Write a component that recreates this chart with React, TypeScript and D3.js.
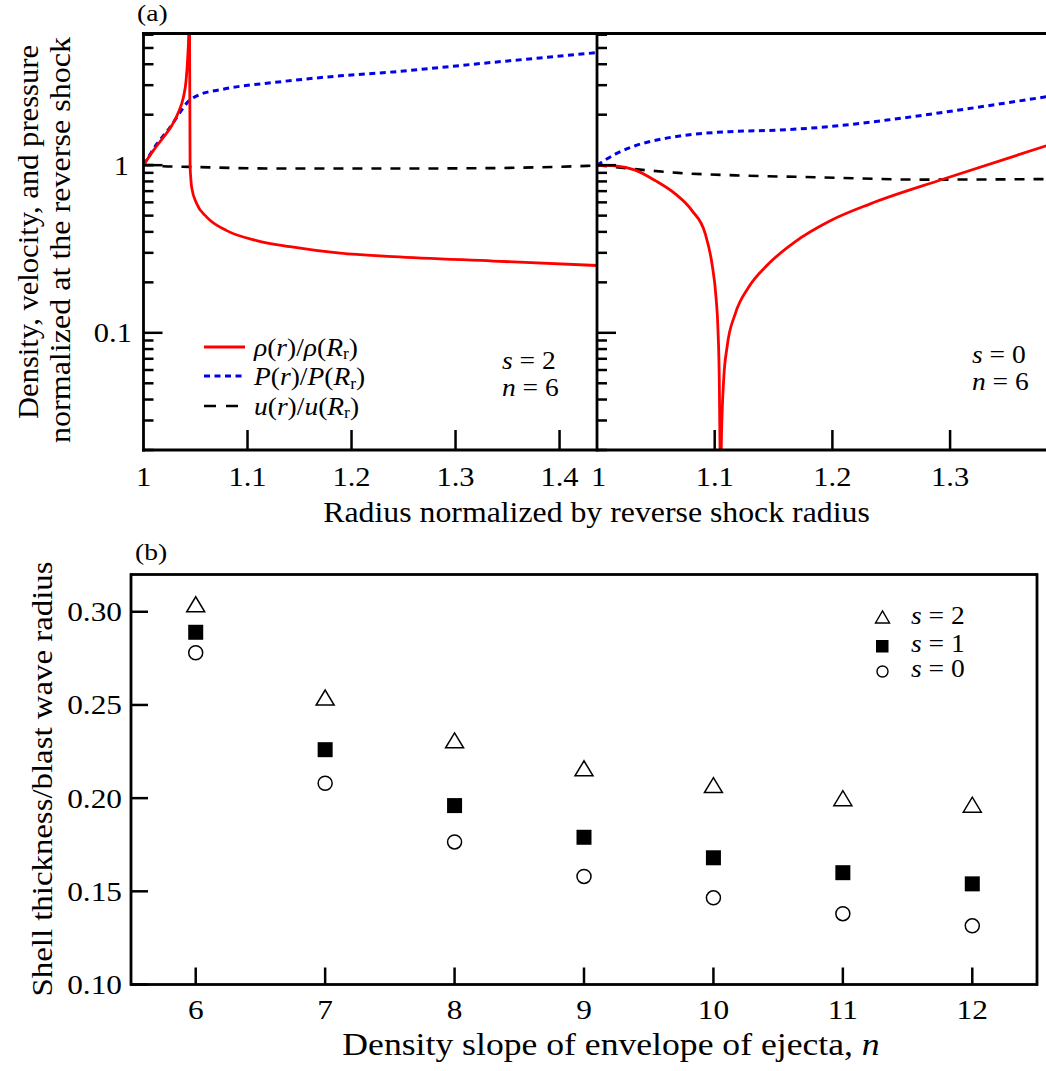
import React from 'react';
import * as d3 from 'd3';

// ---------- Data: panel (a), s = 2 (left) ----------
const leftRho: [number, number][] = [
  [1.0, 1.0], [1.0094, 1.22], [1.019, 1.464], [1.0271, 1.718], [1.0335, 2.063],
  [1.0383, 2.53], [1.0409, 3.18], [1.0425, 4.38], [1.0435, 6.1], [1.0440, 9.0],
  [1.0442, 9.0], [1.0444, 4.0], [1.0446, 2.0], [1.0448, 1.0], [1.0454, 0.846],
  [1.0463, 0.737], [1.0512, 0.588], [1.0608, 0.49], [1.08, 0.407], [1.1088, 0.355],
  [1.1409, 0.3265], [1.189, 0.2986], [1.24, 0.285], [1.3363, 0.268], [1.4358, 0.252],
];
const leftP: [number, number][] = [
  [1.0, 1.0], [1.0127, 1.333], [1.0255, 1.68], [1.0351, 2.063], [1.0431, 2.40],
  [1.0512, 2.59], [1.0767, 2.84], [1.1248, 3.11], [1.189, 3.41], [1.24, 3.6],
  [1.3332, 4.09], [1.4358, 4.69],
];
const leftU: [number, number][] = [
  [1.0, 1.0], [1.009, 1.0], [1.019, 0.986], [1.0447, 0.977], [1.1248, 0.955],
  [1.2466, 0.955], [1.333, 0.96], [1.4358, 0.994],
];

// ---------- Data: panel (a), s = 0 (right) ----------
const rightRho: [number, number][] = [
  [1.0, 1.0], [1.0155, 0.99], [1.0325, 0.934], [1.0495, 0.809], [1.0665, 0.674],
  [1.0807, 0.536], [1.092, 0.389], [1.0977, 0.258], [1.1011, 0.164], [1.1028, 0.104],
  [1.1039, 0.0522], [1.1045, 0.0211], [1.1050, 0.01], [1.1056, 0.021], [1.1076, 0.0522],
  [1.1105, 0.0823], [1.1175, 0.13], [1.1288, 0.187], [1.1458, 0.258], [1.1685, 0.35],
  [1.1982, 0.466], [1.2322, 0.588], [1.2945, 0.827], [1.3818, 1.306],
];
const rightP: [number, number][] = [
  [1.0, 1.0], [1.0155, 1.163], [1.0325, 1.306], [1.0552, 1.432], [1.0835, 1.533],
  [1.1118, 1.583], [1.1543, 1.62], [1.19, 1.68], [1.2464, 1.858], [1.303, 2.11],
  [1.3818, 2.56],
];
const rightU: [number, number][] = [
  [1.0, 1.0], [1.0269, 0.955], [1.0693, 0.899], [1.126, 0.866], [1.19, 0.846],
  [1.2747, 0.82], [1.3818, 0.826],
];

// ---------- Data: panel (b) ----------
const nValues = [6, 7, 8, 9, 10, 11, 12];
const s2 = [0.304, 0.254, 0.231, 0.216, 0.207, 0.200, 0.1965];
const s1 = [0.289, 0.226, 0.196, 0.179, 0.168, 0.160, 0.154];
const s0 = [0.278, 0.208, 0.1765, 0.158, 0.1465, 0.138, 0.1315];

// ---------- Tick labels ----------
const aLeftXTicks = [1.1, 1.2, 1.3, 1.4];
const aRightXTicks = [1.1, 1.2, 1.3];
const aXLabels = ['1', '1.1', '1.2', '1.3', '1.4'];
const aYMajor = [0.1, 1];
const aYMinor = [0.02, 0.03, 0.04, 0.05, 0.06, 0.07, 0.08, 0.09, 0.2, 0.3, 0.4, 0.5, 0.6, 0.7, 0.8, 0.9, 2, 3, 4, 5, 6];
const bYTicks = [0.10, 0.15, 0.20, 0.25, 0.30];

const FONT = '"Liberation Serif", "Times New Roman", serif';

type TProps = {
  x: number; y: number; size: number; sx?: number; anchor?: string; rot?: number; children?: React.ReactNode;
};
function T({ x, y, size, sx = 1, anchor = 'start', rot = 0, children }: TProps) {
  const tr = `translate(${x},${y})${rot ? ` rotate(${rot})` : ''} scale(${sx},1)`;
  return (
    <text transform={tr} fontSize={size} textAnchor={anchor as any}>{children}</text>
  );
}

const I = ({ children }: { children: React.ReactNode }) => <tspan fontStyle="italic">{children}</tspan>;

export default function App() {
  const aTop = 33.5, aBottom = 450;
  const xL = d3.scaleLinear().domain([1, 1.436]).range([143.5, 597]);
  const xR = d3.scaleLinear().domain([1, 1.382]).range([597, 1046.6]);
  const yA = d3.scaleLog().domain([0.02, 6.1]).range([aBottom, aTop]);

  const xB = d3.scaleLinear().domain([5.5, 12.5]).range([131, 1037]);
  const yB = d3.scaleLinear().domain([0.1, 0.32]).range([984.5, 574.5]);

  const lineL = d3.line<[number, number]>().x(d => xL(d[0])).y(d => yA(d[1])).curve(d3.curveMonotoneX);
  const lineR = d3.line<[number, number]>().x(d => xR(d[0])).y(d => yA(d[1])).curve(d3.curveMonotoneX);

  const axisW = 2.8;
  const tickW = 2.5;
  const red = '#ff0000';
  const blue = '#0000ee';

  const tri = (cx: number, cy: number, w: number, h: number) =>
    `M${cx - w / 2},${cy + h / 2}L${cx + w / 2},${cy + h / 2}L${cx},${cy - h / 2}Z`;

  const legendLabel = (sym: string, y: number) => (
    <T x={254} y={y} size={25} sx={1.1}>
      <I>{sym}</I>(<I>r</I>)/<I>{sym}</I>(<I>R</I><tspan fontSize={16} dy={3.5}>r</tspan><tspan dy={-3.5}>)</tspan>
    </T>
  );

  return (
    <svg width={1046} height={1071} style={{ position: 'absolute', left: 0, top: 0, background: '#fff' }}
      fontFamily={FONT}>
      <defs>
        <clipPath id="clipL"><rect x={143.5} y={aTop} width={597 - 143.5} height={aBottom - aTop} /></clipPath>
        <clipPath id="clipR"><rect x={597} y={aTop} width={1046.6 - 597} height={aBottom - aTop} /></clipPath>
      </defs>
      <rect x={0} y={0} width={1046} height={1071} fill="#fff" />

      {/* ===== Panel (a) ===== */}
      <T x={137} y={21} size={24} sx={1.15}>(a)</T>

      <g clipPath="url(#clipL)" fill="none">
        <path d={lineL(leftU) || ''} stroke="#000" strokeWidth={2.6} strokeDasharray="10,9" />
        <path d={lineL(leftP) || ''} stroke={blue} strokeWidth={3} strokeDasharray="6,4.5" />
        <path d={lineL(leftRho) || ''} stroke={red} strokeWidth={2.8} />
      </g>
      <g clipPath="url(#clipR)" fill="none">
        <path d={lineR(rightU) || ''} stroke="#000" strokeWidth={2.6} strokeDasharray="10,9" />
        <path d={lineR(rightP) || ''} stroke={blue} strokeWidth={3} strokeDasharray="6,4.5" />
        <path d={lineR(rightRho) || ''} stroke={red} strokeWidth={2.8} />
      </g>

      <g stroke="#000" strokeWidth={tickW}>
        {aYMajor.map(v => (
          <g key={'ma' + v}>
            <line x1={143.5} x2={143.5 + 19} y1={yA(v)} y2={yA(v)} />
            <line x1={597} x2={597 + 19} y1={yA(v)} y2={yA(v)} />
          </g>
        ))}
        {aYMinor.map(v => (
          <g key={'mi' + v}>
            <line x1={143.5} x2={143.5 + 10} y1={yA(v)} y2={yA(v)} />
            <line x1={597} x2={597 + 10} y1={yA(v)} y2={yA(v)} />
          </g>
        ))}
        {aLeftXTicks.map(v => (
          <line key={'xl' + v} x1={xL(v)} x2={xL(v)} y1={aBottom} y2={aBottom - 20} />
        ))}
        {aRightXTicks.map(v => (
          <line key={'xr' + v} x1={xR(v)} x2={xR(v)} y1={aBottom} y2={aBottom - 20} />
        ))}
      </g>

      <g stroke="#000" strokeWidth={axisW} fill="none">
        <line x1={143.5} x2={143.5} y1={aTop - 1.4} y2={aBottom + 1.4} />
        <line x1={597} x2={597} y1={aTop - 1.4} y2={aBottom + 1.4} />
        <line x1={142} x2={1046} y1={aTop} y2={aTop} />
        <line x1={142} x2={1046} y1={aBottom} y2={aBottom} />
      </g>

      {[1, ...aLeftXTicks].map((v, i) => (
        <T key={'lx' + v} x={xL(v)} y={486} size={28} sx={1.09} anchor="middle">{aXLabels[i]}</T>
      ))}
      {[1, ...aRightXTicks].map((v, i) => (
        <T key={'rx' + v} x={xR(v) + (i === 0 ? 1.5 : 0)} y={486} size={28} sx={1.09} anchor="middle">{aXLabels[i]}</T>
      ))}
      <T x={129} y={yA(1) + 9.5} size={28} sx={1.09} anchor="end">1</T>
      <T x={132} y={yA(0.1) + 9.5} size={28} sx={1.09} anchor="end">0.1</T>

      <T x={596.5} y={522} size={30} sx={1.06} anchor="middle">Radius normalized by reverse shock radius</T>
      <T x={38} y={232} size={30} sx={1.02} rot={-90} anchor="middle">Density, velocity, and pressure</T>
      <T x={70} y={240} size={30} sx={1.07} rot={-90} anchor="middle">normalized at the reverse shock</T>

      <g fill="none">
        <line x1={204} x2={245} y1={347} y2={347} stroke={red} strokeWidth={2.8} />
        <line x1={204} x2={245} y1={376} y2={376} stroke={blue} strokeWidth={3} strokeDasharray="6,4.5" />
        <line x1={204} x2={245} y1={406} y2={406} stroke="#000" strokeWidth={2.6} strokeDasharray="12,10" />
      </g>
      {legendLabel('ρ', 355.5)}
      {legendLabel('P', 385)}
      {legendLabel('u', 414.5)}

      <T x={502} y={369} size={25} sx={1.1}><I>s</I> = 2</T>
      <T x={502} y={396} size={25} sx={1.1}><I>n</I> = 6</T>
      <T x={972} y={363} size={25} sx={1.1}><I>s</I> = 0</T>
      <T x={972} y={390} size={25} sx={1.1}><I>n</I> = 6</T>

      {/* ===== Panel (b) ===== */}
      <T x={135} y={560} size={24} sx={1.15}>(b)</T>
      <rect x={131} y={574.5} width={1037 - 131} height={984.5 - 574.5} fill="none" stroke="#000" strokeWidth={axisW} />
      <g stroke="#000" strokeWidth={tickW}>
        {bYTicks.map(v => (
          <line key={'by' + v} x1={131} x2={131 + 17} y1={yB(v)} y2={yB(v)} />
        ))}
        {nValues.map(v => (
          <line key={'bx' + v} x1={xB(v)} x2={xB(v)} y1={984.5} y2={984.5 - 17} />
        ))}
      </g>
      {bYTicks.map(v => (
        <T key={'byl' + v} x={122} y={yB(v) + 9.5} size={28} sx={1.12} anchor="end">{d3.format('.2f')(v)}</T>
      ))}
      {nValues.map(v => (
        <T key={'bxl' + v} x={xB(v)} y={1019} size={28} sx={1.12} anchor="middle">{v}</T>
      ))}
      <T x={611} y={1055} size={31} sx={1.15} anchor="middle">Density slope of envelope of ejecta, <I>n</I></T>
      <T x={52} y={779} size={30} sx={1.095} rot={-90} anchor="middle">Shell thickness/blast wave radius</T>

      <g>
        {nValues.map((n, i) => (
          <path key={'t' + n} d={tri(xB(n), yB(s2[i]), 18, 15)} fill="#fff" stroke="#000" strokeWidth={1.5} />
        ))}
        {nValues.map((n, i) => (
          <rect key={'q' + n} x={xB(n) - 7.5} y={yB(s1[i]) - 7.5} width={15} height={15} fill="#000" />
        ))}
        {nValues.map((n, i) => (
          <circle key={'c' + n} cx={xB(n)} cy={yB(s0[i])} r={7} fill="#fff" stroke="#000" strokeWidth={1.5} />
        ))}
      </g>

      <path d={tri(882.5, 617, 14, 12)} fill="#fff" stroke="#000" strokeWidth={1.4} />
      <rect x={876} y={640} width={12.5} height={12.5} fill="#000" />
      <circle cx={882.5} cy={671.5} r={5.5} fill="#fff" stroke="#000" strokeWidth={1.4} />
      <T x={911} y={624} size={25} sx={1.1}><I>s</I> = 2</T>
      <T x={911} y={652} size={25} sx={1.1}><I>s</I> = 1</T>
      <T x={911} y={677} size={25} sx={1.1}><I>s</I> = 0</T>
    </svg>
  );
}
